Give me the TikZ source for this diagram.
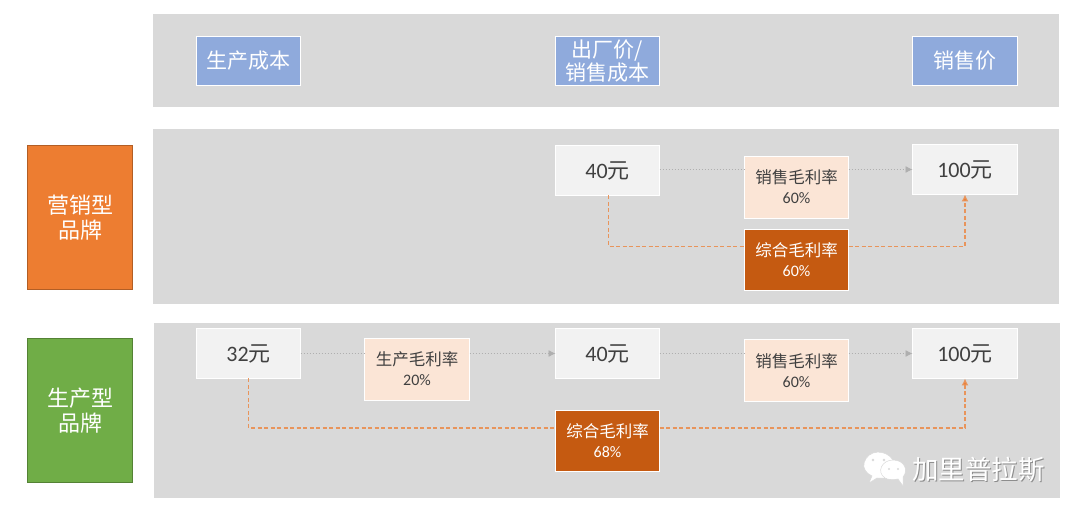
\documentclass[tikz,border=0pt]{standalone}
\usepackage{fontspec}
\setmainfont{Carlito}
\newfontfamily\cjk{Noto Sans CJK SC}
\definecolor{band}{HTML}{D9D9D9}
\definecolor{bluebox}{HTML}{8FAADC}
\definecolor{paper}{HTML}{F2F2F2}
\definecolor{peach}{HTML}{FBE5D6}
\definecolor{rust}{HTML}{C55A11}
\definecolor{orng}{HTML}{ED7D31}
\definecolor{grn}{HTML}{70AD47}
\definecolor{ink}{HTML}{404040}
\definecolor{dotgray}{HTML}{AFAFAF}
\newcommand{\pct}[1]{{\fontsize{16}{20}\selectfont #1\%}}
\tikzset{
  x=1pt,y=-1pt,
  base/.style={draw=white,line width=0.9pt,inner sep=0,outer sep=0,align=center,text=ink},
  head/.style={base,fill=bluebox,text=white,minimum width=104,minimum height=49,font=\fontsize{21}{24}\selectfont},
  price/.style={base,fill=paper,minimum width=104,minimum height=50,font=\fontsize{22}{24}\selectfont},
  rate/.style={base,fill=peach,minimum width=104,minimum height=62,font=\fontsize{16.5}{20}\selectfont},
  total/.style={base,fill=rust,text=white,minimum width=104,minimum height=61,font=\fontsize{16.5}{20}\selectfont},
  brand/.style={draw=#1!75!black,fill=#1,line width=0.6pt,text=white,inner sep=0,outer sep=0,align=center,minimum width=105,minimum height=144,font=\fontsize{22}{25}\selectfont},
  flow/.style={draw=dotgray,line width=0.8pt,dash pattern=on 1.5pt off 1.5pt},
  flowtip/.style={flow,-{Latex[length=7pt,width=7pt,fill=dotgray]}},
  sum/.style={draw=orng!75!band,line width=1.2pt,dash pattern=on 4pt off 2.5pt},
  sumtip/.style={sum,-{Latex[length=7pt,width=7pt,fill=orng]}},
  bubble/.style={fill=white,draw=band,line width=0.5pt},
}
\usetikzlibrary{arrows.meta,calc}
\begin{document}
\begin{tikzpicture}
\useasboundingbox (0,0) rectangle (1080,518);
\fill[white] (0,0) rectangle (1080,518);
\fill[band] (153,14) rectangle (1059,107);
\fill[band] (153,129) rectangle (1059,304);
\fill[band] (154,323) rectangle (1060,498);

\node[head] (h1) at (248.5,61) {\cjk 生产成本};
\node[head] (h2) at (607.5,61) {\cjk 出厂价/\\[-1pt]\cjk 销售成本};
\node[head,minimum width=105] (h3) at (965,61) {\cjk 销售价};

\node[brand=orng] (b1) at (80,217.5) {\cjk 营销型\\\cjk 品牌};
\node[brand=grn] (b2) at (80,410.5) {\cjk 生产型\\\cjk 品牌};

% marketing row
\node[price] (a1) at (607.5,170.5) {40{\cjk 元}};
\node[rate] (a2) at (796.5,187) {\cjk 销售毛利率\\\pct{60}};
\node[price,minimum width=105] (a3) at (965,169.5) {100{\cjk 元}};
\node[total] (a4) at (796.5,260) {\cjk 综合毛利率\\\pct{60}};
\coordinate (ay) at (796.5,246.2);
\draw[flow] (a1.east|-a3) -- (a2.west|-a3);
\draw[flowtip] (a2.east|-a3) -- (a3.west);
\draw[sum] ([xshift=0.7pt]a1.south) |- (a4.west|-ay);
\draw[sumtip] (a4.east|-ay) -| (a3.south);

% production row
\node[price] (c1) at (248.5,353.5) {32{\cjk 元}};
\node[rate,minimum width=105] (c2) at (417,369) {\cjk 生产毛利率\\\pct{20}};
\node[price] (c3) at (607.5,353.5) {40{\cjk 元}};
\node[rate] (c4) at (796.5,370.5) {\cjk 销售毛利率\\\pct{60}};
\node[price,minimum width=105] (c5) at (965,353.5) {100{\cjk 元}};
\node[total] (c6) at (607.5,441) {\cjk 综合毛利率\\\pct{68}};
\coordinate (cy) at (607.5,428);
\draw[flow] (c1.east) -- (c2.west|-c1);
\draw[flowtip] (c2.east|-c1) -- (c3.west);
\draw[flow] (c3.east) -- (c4.west|-c3);
\draw[flowtip] (c4.east|-c3) -- (c5.west);
\draw[sum] (c1.south) |- (c6.west|-cy);
\draw[sumtip] (c6.east|-cy) -| (c5.south);

% watermark
\fill[bubble] (872,476) -- (869,483) -- (877,478) .. controls (894,480) and (900,470) .. (893,460) .. controls (886,449) and (868,449) .. (864,463) .. controls (863,469) and (866,473) .. (872,476) -- cycle;
\fill[bubble] (898,479) -- (903,486) -- (903,477) .. controls (909,470) and (904,460) .. (893,460) .. controls (882,460) and (876,472) .. (885,478) .. controls (888,480) and (894,480) .. (898,479) -- cycle;
\fill[band] (873,460) circle (1.4) (884,460) circle (1.4) (889,469) circle (1.2) (898,469) circle (1.2);
\node[inner sep=0,text=black!45,font=\fontsize{26.5}{30}\selectfont\cjk] (wms) at (979.5,470.5) {加里普拉斯};
\node[inner sep=0,text=white,font=\fontsize{26.5}{30}\selectfont\cjk] (wm) at (978.5,469.5) {加里普拉斯};
\end{tikzpicture}
\end{document}
